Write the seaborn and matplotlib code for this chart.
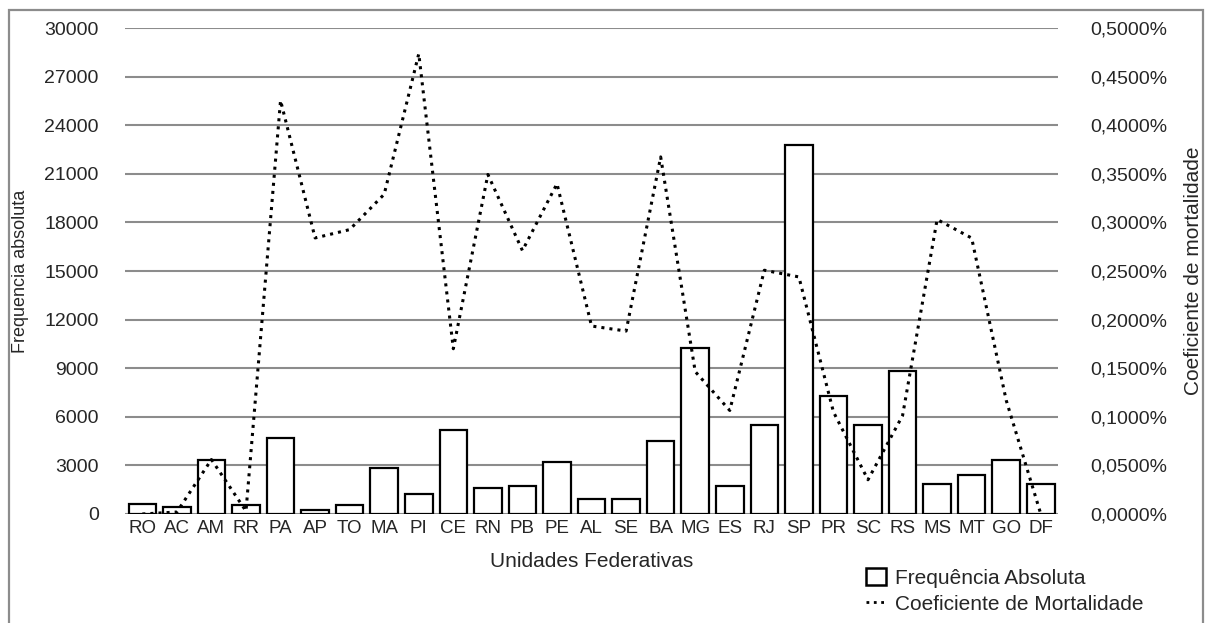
import matplotlib
matplotlib.use("Agg")
import matplotlib.pyplot as plt
import matplotlib.ticker as ticker
from matplotlib.patches import Patch, Rectangle
from matplotlib.lines import Line2D
import numpy as np
import seaborn as sns

ufs = ["RO", "AC", "AM", "RR", "PA", "AP", "TO", "MA", "PI", "CE", "RN", "PB",
       "PE", "AL", "SE", "BA", "MG", "ES", "RJ", "SP", "PR", "SC", "RS", "MS",
       "MT", "GO", "DF"]

freq = [600, 420, 3360, 580, 4680, 270, 580, 2840, 1230, 5200, 1590, 1750,
        3210, 900, 900, 4510, 10270, 1750, 5510, 22790, 7300, 5510, 8830,
        1860, 2380, 3360, 1860]

coef = [0.000, 0.002, 0.056, 0.003, 0.4255, 0.284, 0.2926, 0.329, 0.4735,
        0.170, 0.3493, 0.271, 0.3398, 0.1934, 0.1882, 0.3674, 0.1465, 0.1065,
        0.2508, 0.2439, 0.1050, 0.0352, 0.1012, 0.3030, 0.2839, 0.1169, 0.000]

left_ticks = np.arange(0, 30001, 3000)
right_ticks = np.arange(0, 0.50001, 0.05)

sns.set_theme(style="white")
plt.rcParams["font.family"] = ["Liberation Sans", "DejaVu Sans"]
plt.rcParams["font.size"] = 13

grid_gray = "#8c8c8c"

fig = plt.figure(figsize=(12.07, 6.23), dpi=100)
ax = fig.add_axes([0.1036, 0.175, 0.773, 0.780])

sns.barplot(x=ufs, y=freq, ax=ax, color="white", edgecolor="black",
            linewidth=1.6, width=0.8, saturation=1, zorder=3)
ax.set_ylim(0, 30000)
ax.set_yticks(left_ticks)
ax.yaxis.grid(True, color=grid_gray, linewidth=1.5, zorder=0)
ax.set_axisbelow(True)
ax.set_xlabel("Unidades Federativas", fontsize=15, labelpad=11)
ax.set_ylabel("Frequencia absoluta", fontsize=13, labelpad=11)
ax.tick_params(axis="y", length=0, pad=19, labelsize=14)
ax.tick_params(axis="x", length=0, pad=4, labelsize=13.5)
for s in ax.spines.values():
    s.set_visible(False)

# taxa no eixo secundario
ax2 = ax.twinx()
sns.pointplot(x=ufs, y=coef, ax=ax2, color="black", linestyle=":",
              marker="", linewidth=2.2)
ax2.set_ylim(0, 0.5)
ax2.set_yticks(right_ticks)
ax2.yaxis.set_major_formatter(
    ticker.FuncFormatter(lambda v, p: f"{v:.4f}%".replace(".", ",")))
ax2.set_ylabel("Coeficiente de mortalidade", fontsize=15, labelpad=12)
ax2.tick_params(axis="y", length=0, pad=23, labelsize=14)
ax2.set_xlim(-0.5, len(ufs) - 0.5)
ax.set_xlim(-0.5, len(ufs) - 0.5)
for s in ax2.spines.values():
    s.set_visible(False)

handles = [Patch(facecolor="white", edgecolor="black", linewidth=1.8),
           Line2D([0], [0], color="black", linestyle=":", linewidth=2)]
fig.legend(handles, ["Frequência Absoluta", "Coeficiente de Mortalidade"],
           loc="upper left", bbox_to_anchor=(0.7175, 0.088), frameon=False,
           fontsize=15, handlelength=0.95, handleheight=0.85,
           handletextpad=0.45, labelspacing=0.32, borderaxespad=0,
           borderpad=0)

fig.patches.append(Rectangle((0.0075, -0.02), 0.9892, 1.004,
                             transform=fig.transFigure, fill=False,
                             edgecolor=grid_gray, linewidth=1.6))

fig.savefig("out.png", dpi=100)
